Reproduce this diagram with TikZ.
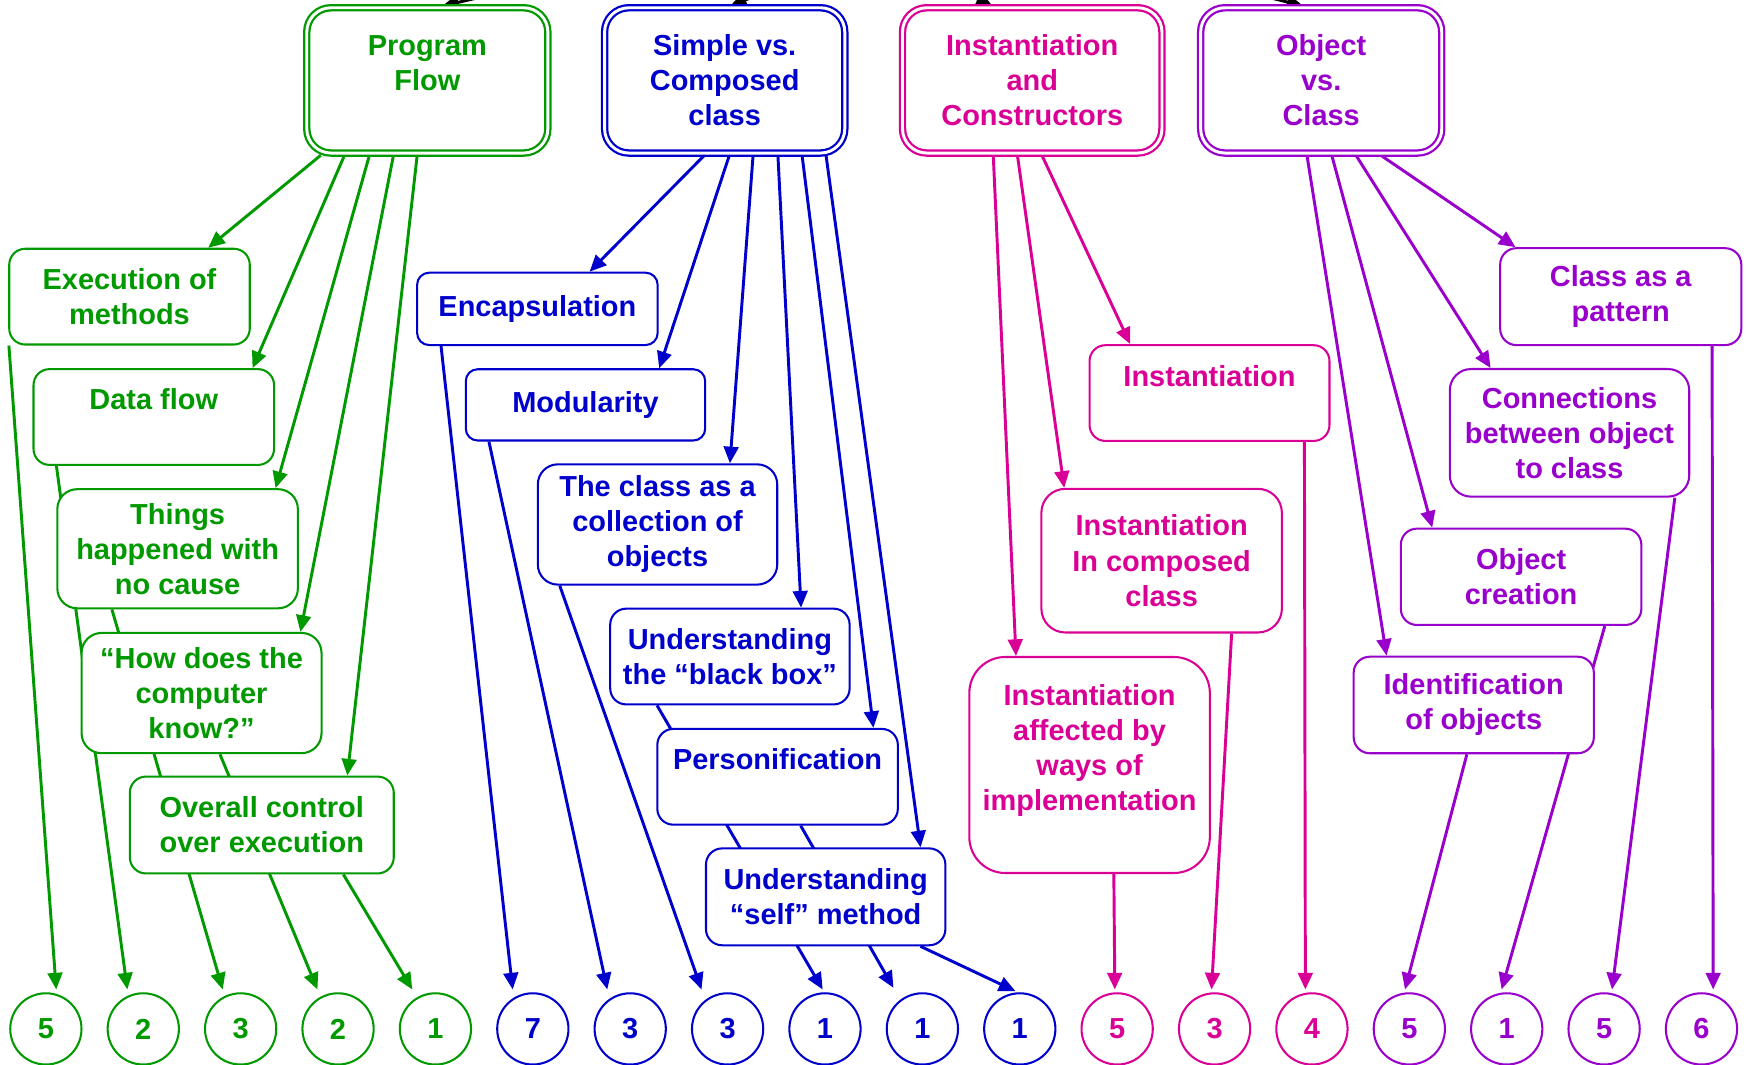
\documentclass[tikz,border=0pt]{standalone}
\usepackage{fontspec}
\setmainfont{Liberation Sans}
\usetikzlibrary{arrows.meta,calc}
\definecolor{cg}{RGB}{0,153,0}
\definecolor{cb}{RGB}{0,0,204}
\definecolor{cm}{RGB}{218,0,150}
\definecolor{cpu}{RGB}{153,0,204}
\pgfdeclarelayer{bg}
\pgfsetlayers{bg,main}
\begin{document}
\begin{tikzpicture}[x=0.02cm,y=-0.02cm,
  txt/.style={font=\fontsize{14.8pt}{17.9pt}\selectfont\bfseries, align=center},
  subbox/.style n args={3}{txt, draw=#1, text=#1, fill=white, line width=1.05pt, inner sep=0pt,
     minimum width={#2*0.02cm}, minimum height={#3*0.02cm}, rounded corners={min(#2,#3)*0.02cm/6}},
  headbox/.style 2 args={txt, draw=#1, text=#1, fill=white, double=white, line width=1.15pt,
     double distance=1.5pt, inner sep=0pt, minimum width={#2*0.02cm}, minimum height=2.61cm,
     rounded corners=0.435cm},
  conn/.style={draw=#1, line width=1.5pt, -{Triangle[length=8.5pt,width=7.5pt]}},
  numcirc/.style={txt, circle, draw=#1, text=#1, line width=1.05pt, minimum size=1.28cm, inner sep=0pt, fill=white}
]
\useasboundingbox (0,0) rectangle (1568,956);

% top boxes
\node[headbox={cg}{216.5}] (pf) at (383.75,72.2) {Program\\Flow\\\mbox{}};
\node[headbox={cb}{215.7}] (sc) at (650.8,72.2) {Simple vs.\\Composed\\class};
\node[headbox={cm}{233}] (itc) at (927,72.2) {Instantiation\\and\\Constructors};
\node[headbox={cpu}{216.5}] (ov) at (1186.5,72.2) {Object\\vs.\\Class};

% green
\node[subbox={cg}{216}{86}] (ex) at (116.3,266.4) {Execution of\\methods};
\node[subbox={cg}{216}{86}] (df) at (138.1,374.5) {Data flow\\\mbox{}};
\node[subbox={cg}{216}{107}] (th) at (159.5,492.8) {Things\\happened with\\no cause};
\node[subbox={cg}{215.5}{108}] (hd) at (181,622.4) {“How does the\\computer\\know?”};
\node[subbox={cg}{237}{87}] (oc) at (235.1,740.9) {Overall control\\over execution};

% blue
\node[subbox={cb}{216}{65}] (en) at (482.6,277.4) {Encapsulation};
\node[subbox={cb}{215}{64}] (mo) at (525.8,363.6) {Modularity};
\node[subbox={cb}{215}{108}] (cc) at (590.5,471) {The class as a\\collection of\\objects};
\node[subbox={cb}{215}{86}] (bb) at (655.5,589.6) {Understanding\\the “black box”};
\node[subbox={cb}{216}{86}] (pe) at (698.3,697.6) {Personification\\\mbox{}};
\node[subbox={cb}{215}{87}] (se) at (741.5,805.4) {Understanding\\“self” method};

% magenta
\node[subbox={cm}{215.5}{86}] (ins) at (1086.2,353) {Instantiation\\\mbox{}};
\node[subbox={cm}{216}{129}] (icm) at (1043.2,503.5) {Instantiation\\In composed\\class};
\node[subbox={cm}{216}{194}] (af) at (978.5,687) {Instantiation\\affected by\\ways of\\implementation\\\mbox{}};

% purple
\node[subbox={cpu}{216.5}{87}] (cp) at (1455.5,266.4) {Class as a\\pattern};
\node[subbox={cpu}{215}{114.6}] (cn) at (1409.5,388.7) {Connections\\between object\\to class};
\node[subbox={cpu}{216}{86.5}] (ob) at (1366,518) {Object\\creation};
\node[subbox={cpu}{215.7}{86.7}] (id) at (1323.5,633.1) {Identification\\of objects};

% count circles
\foreach \i/\n/\c in {0/5/cg,1/2/cg,2/3/cg,3/2/cg,4/1/cg,5/7/cb,6/3/cb,7/3/cb,8/1/cb,9/1/cb,10/1/cb,11/5/cm,12/3/cm,13/4/cm,14/5/cpu,15/1/cpu,16/5/cpu,17/6/cpu}
  \node[numcirc=\c] (c\i) at ({41.2+87.46*\i},924) {\n};

% incoming arrows from above
\coordinate (k1) at (481,-14);
\coordinate (k2) at (700.6,-12.5);
\coordinate (k3) at (851.5,-13.4);
\coordinate (k4) at (1098.5,-12.5);

\begin{pgfonlayer}{bg}
\fill[white] (0,0) rectangle (1568,956);
\draw[conn=black] (k1) -- ($(pf.north)+(13.3,-0.5)$);
\draw[conn=black] (k2) -- ($(sc.north)+(4.8,-0.5)$);
\draw[conn=black] (k3) -- ($(itc.north)+(-35.5,-0.5)$);
\draw[conn=black] (k4) -- ($(ov.north)+(-16,-0.5)$);

% green arrows
\draw[conn=cg] ($(pf.south)+(-95.7,1)$) -- ($(ex.north)+(70.7,0)$);
\draw[conn=cg] ($(pf.south)+(-74.4,1)$) -- ($(df.north)+(88.7,0)$);
\draw[conn=cg] ($(pf.south)+(-52,1)$) -- ($(th.north)+(88,0)$);
\draw[conn=cg] ($(pf.south)+(-30.4,1)$) -- ($(hd.north)+(88.8,0)$);
\draw[conn=cg] ($(pf.south)+(-9.1,1)$) -- ($(oc.north)+(76.8,0)$);
% blue arrows
\draw[conn=cb] ($(sc.south)+(-18.2,1)$) -- ($(en.north)+(46.9,0)$);
\draw[conn=cb] ($(sc.south)+(4.2,1)$) -- ($(mo.north)+(66.2,0)$);
\draw[conn=cb] ($(sc.south)+(25.5,1)$) -- ($(cc.north)+(65,0)$);
\draw[conn=cb] ($(sc.south)+(47.8,1)$) -- ($(bb.north)+(63.9,0)$);
\draw[conn=cb] ($(sc.south)+(69.5,1)$) -- ($(pe.north)+(86.1,0)$);
\draw[conn=cb] ($(sc.south)+(91,1)$) -- ($(se.north)+(85.2,0)$);
% magenta arrows
\draw[conn=cm] ($(itc.south)+(-35,1)$) -- ($(af.north)+(-66.1,0)$);
\draw[conn=cm] ($(itc.south)+(-13.3,1)$) -- ($(icm.north)+(-87.5,0)$);
\draw[conn=cm] ($(itc.south)+(8.7,1)$) -- ($(ins.north)+(-71.2,0)$);
% purple arrows
\draw[conn=cpu] ($(ov.south)+(-12.8,1)$) -- ($(id.north)+(-78.3,0)$);
\draw[conn=cpu] ($(ov.south)+(9.5,1)$) -- ($(ob.north)+(-79.8,0)$);
\draw[conn=cpu] ($(ov.south)+(31.2,1)$) -- ($(cn.north)+(-70.9,0)$);
\draw[conn=cpu] ($(ov.south)+(53.5,1)$) -- ($(cp.north)+(-94.5,0)$);

% lines to counts
\draw[conn=cg] ($(ex.south west)+(0.6,0)$) -- ($(c0.north)+(9.3,-2.5)$);
\draw[conn=cg] ($(df.south west)+(21.5,0)$) -- ($(c1.north)+(-14.3,-2.5)$);
\draw[conn=cg] ($(th.south west)+(49.9,0)$) -- ($(c2.north)+(-16.1,-2.5)$);
\draw[conn=cg] ($(hd.south west)+(125.2,0)$) -- ($(c3.north)+(-18.5,-2.5)$);
\draw[conn=cg] ($(oc.south west)+(192.7,0)$) -- ($(c4.north)+(-20.8,-2.5)$);

\draw[conn=cb] ($(en.south west)+(22.4,0)$) -- ($(c5.north)+(-18.1,-2.5)$);
\draw[conn=cb] ($(mo.south west)+(21.7,0)$) -- ($(c6.north)+(-20.6,-2.5)$);
\draw[conn=cb] ($(cc.south west)+(20.6,0)$) -- ($(c7.north)+(-23.4,-2.5)$);
\draw[conn=cb] ($(bb.south west)+(43,0)$) -- ($(c8.north)+(-2.1,-2.5)$);
\draw[conn=cb] ($(pe.south west)+(129.7,0)$) -- ($(c9.north)+(-26,-4)$);
\draw[conn=cb] ($(se.south west)+(193.5,0)$) -- ($(c10.north)+(-3.9,-1)$);

\draw[conn=cm] ($(af.south west)+(130.7,0)$) -- ($(c11.north)+(-2.1,-2.5)$);
\draw[conn=cm] ($(icm.south west)+(171.8,0)$) -- ($(c12.north)+(-2.7,-2.5)$);
\draw[conn=cm] ($(ins.south west)+(193.9,0)$) -- ($(c13.north)+(-5.9,-2.5)$);

\draw[conn=cpu] ($(id.south west)+(102.6,0)$) -- ($(c14.north)+(-3.9,-2.5)$);
\draw[conn=cpu] ($(ob.south west)+(184.1,0)$) -- ($(c15.north)+(-4.6,-2.5)$);
\draw[conn=cpu] ($(cn.south west)+(203,0)$) -- ($(c16.north)+(7.1,-2.5)$);
\draw[conn=cpu] ($(cp.south west)+(191.2,0)$) -- ($(c17.north)+(10.5,-2.5)$);
\end{pgfonlayer}
\end{tikzpicture}
\end{document}
